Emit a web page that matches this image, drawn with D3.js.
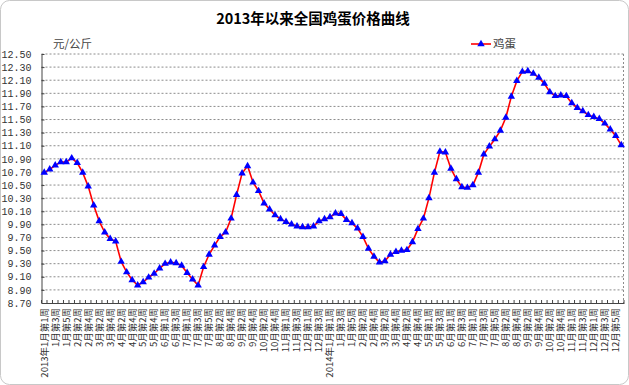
<!DOCTYPE html>
<html>
<head>
<meta charset="utf-8">
<script src="https://cdn.jsdelivr.net/npm/d3@7"></script>
<style>
    body { margin: 0; background: #fff; }
    svg { display: block; }
    .y-axis text { font-family: "Liberation Mono", "DejaVu Sans Mono", monospace; font-size: 10px; fill: #333; }
    .x-axis text { font-family: "Noto Sans CJK SC", sans-serif; font-size: 9.5px; fill: #333; }
</style>
</head>
<body>
<div id="chart-area"></div>
<script>

// weekly average egg price, 元/公斤 (2013 week 1 ... early 2015)
var prices = [
    10.69, 10.74, 10.80, 10.85, 10.85, 10.91, 10.84, 10.69, 10.48, 10.19,
    9.95, 9.78, 9.68, 9.64, 9.33, 9.17, 9.05, 8.97, 9.02, 9.09,
    9.15, 9.23, 9.30, 9.32, 9.31, 9.27, 9.16, 9.06, 8.97, 9.25,
    9.44, 9.58, 9.71, 9.78, 9.99, 10.35, 10.68, 10.79, 10.54, 10.41,
    10.22, 10.13, 10.04, 9.98, 9.94, 9.90, 9.87, 9.86, 9.86, 9.87,
    9.95, 9.98, 10.01, 10.07, 10.06, 9.97, 9.92, 9.84, 9.71, 9.53,
    9.41, 9.32, 9.34, 9.44, 9.48, 9.50, 9.51, 9.63, 9.83, 9.99,
    10.30, 10.69, 11.01, 11.00, 10.75, 10.59, 10.47, 10.46, 10.50, 10.69,
    10.97, 11.09, 11.20, 11.33, 11.53, 11.85, 12.09, 12.23, 12.24, 12.20,
    12.14, 12.05, 11.92, 11.86, 11.87, 11.86, 11.75, 11.68, 11.63, 11.57,
    11.54, 11.51, 11.44, 11.35, 11.25, 11.11
];

// every second week is labelled on the x axis
var weekLabels = [
    "2013年1月第1周", "1月第3周", "1月第5周", "2月第2周", "2月第4周", "3月第2周", "3月第4周",
    "4月第2周", "4月第4周", "5月第2周", "5月第4周", "6月第1周", "6月第3周", "7月第1周",
    "7月第3周", "7月第5周", "8月第2周", "8月第4周", "9月第2周", "9月第4周", "10月第2周",
    "10月第4周", "11月第1周", "11月第3周", "12月第1周", "12月第3周",
    "2014年1月第1周", "1月第3周", "1月第5周", "2月第2周", "2月第4周", "3月第2周", "3月第4周",
    "4月第2周", "4月第4周", "5月第1周", "5月第3周", "6月第1周", "6月第3周", "7月第1周",
    "7月第3周", "7月第5周", "8月第2周", "8月第4周", "9月第2周", "9月第4周", "10月第2周",
    "10月第4周", "11月第1周", "11月第3周", "12月第1周", "12月第3周", "12月第5周"
];

var yTicks = [8.70, 8.90, 9.10, 9.30, 9.50, 9.70, 9.90, 10.10, 10.30, 10.50,
    10.70, 10.90, 11.10, 11.30, 11.50, 11.70, 11.90, 12.10, 12.30, 12.50];

var seriesName = "鸡蛋";
var unitLabel = "元/公斤";
var chartTitle = "2013年以来全国鸡蛋价格曲线";


var totalWidth = 629, totalHeight = 385;
var margin = { top: 54, right: 5, bottom: 82, left: 41.5 };
var width = totalWidth - margin.left - margin.right;
var height = totalHeight - margin.top - margin.bottom;

var svgRoot = d3.select("#chart-area").append("svg")
    .attr("width", totalWidth)
    .attr("height", totalHeight);

// rounded frame round the picture
svgRoot.append("rect")
    .attr("x", 0.5).attr("y", 0.5)
    .attr("width", totalWidth - 1).attr("height", totalHeight - 1)
    .attr("rx", 9)
    .attr("fill", "none")
    .attr("stroke", "#c8c8c8");

svgRoot.append("text")
    .attr("x", 313)
    .attr("y", 24)
    .attr("text-anchor", "middle")
    .style("font-family", "'Noto Sans CJK SC', sans-serif")
    .style("font-size", "14.5px")
    .style("font-weight", "bold")
    .text(chartTitle);

var svg = svgRoot.append("g")
    .attr("transform", "translate(" + margin.left + "," + margin.top + ")");

// Scales
var x = d3.scaleBand()
    .domain(d3.range(prices.length))
    .range([0, width]);

var y = d3.scaleLinear()
    .domain([8.7, 12.5])
    .range([height, 0]);

//======= Grid lines ======//
svg.selectAll(".grid")
    .data(yTicks.slice(1))
    .enter()
    .append("line")
    .attr("class", "grid")
    .attr("x1", 0)
    .attr("x2", width)
    .attr("y1", function(d) { return y(d); })
    .attr("y2", function(d) { return y(d); })
    .attr("stroke", "#8c8c8c")
    .attr("stroke-dasharray", "2,2");

svg.append("line")
    .attr("x1", width - 0.5).attr("x2", width - 0.5)
    .attr("y1", 0).attr("y2", height)
    .attr("stroke", "#8c8c8c")
    .attr("stroke-dasharray", "2,2");

//======= Axes ======//
var yAxis = d3.axisLeft(y)
    .tickValues(yTicks)
    .tickFormat(d3.format(".2f"))
    .tickSizeInner(-3)
    .tickSizeOuter(0)
    .tickPadding(10);

svg.append("g")
    .attr("class", "y-axis")
    .call(yAxis)
    .call(function(g) {
        g.select(".domain").attr("stroke", "#444");
        g.selectAll(".tick line").attr("stroke", "#444");
    });

var xAxis = d3.axisBottom(x)
    .tickValues(d3.range(0, prices.length, 2).filter(function(i) { return i / 2 < weekLabels.length; }))
    .tickFormat(function(i) { return weekLabels[i / 2]; })
    .tickSize(0)
    .tickSizeOuter(0);

svg.append("g")
    .attr("class", "x-axis")
    .attr("transform", "translate(0," + height + ")")
    .call(xAxis)
    .call(function(g) {
        g.select(".domain").attr("stroke", "#444");
        g.selectAll("text")
            .attr("transform", "rotate(-90)")
            .attr("x", -5)
            .attr("y", 0)
            .attr("dy", "0.35em")
            .style("text-anchor", "end");
    });

// small tick marks between the weeks
svg.selectAll(".week-tick")
    .data(d3.range(prices.length + 1))
    .enter()
    .append("line")
    .attr("class", "week-tick")
    .attr("x1", function(i) { return x.range()[0] + i * x.step(); })
    .attr("x2", function(i) { return x.range()[0] + i * x.step(); })
    .attr("y1", height)
    .attr("y2", height - 3)
    .attr("stroke", "#444");

//======= Price line ======//
var valueLine = d3.line()
    .x(function(d, i) { return x(i) + x.bandwidth() / 2; })
    .y(function(d) { return y(d); });

svg.append("path")
    .datum(prices)
    .attr("d", valueLine)
    .attr("fill", "none")
    .attr("stroke", "#ff0000")
    .attr("stroke-width", 1.6);

var triangle = d3.symbol().type(d3.symbolTriangle).size(24);

svg.selectAll(".dot")
    .data(prices)
    .enter()
    .append("path")
    .attr("class", "dot")
    .attr("d", triangle)
    .attr("transform", function(d, i) {
        return "translate(" + (x(i) + x.bandwidth() / 2) + "," + y(d) + ")";
    })
    .attr("fill", "#0000ff");

//======= Unit and legend ======//
svgRoot.append("text")
    .attr("x", 53)
    .attr("y", 48)
    .style("font-family", "'Noto Sans CJK SC', sans-serif")
    .style("font-size", "11.5px")
    .style("fill", "#444")
    .text(unitLabel);

var legend = svgRoot.append("g")
    .attr("transform", "translate(471,44)");

legend.append("line")
    .attr("x1", 0).attr("x2", 20)
    .attr("y1", 0).attr("y2", 0)
    .attr("stroke", "#ff0000")
    .attr("stroke-width", 1.6);

legend.append("path")
    .attr("d", triangle)
    .attr("transform", "translate(10,0)")
    .attr("fill", "#0000ff");

legend.append("text")
    .attr("x", 22)
    .attr("y", 4)
    .style("font-family", "'Noto Sans CJK SC', sans-serif")
    .style("font-size", "11.5px")
    .style("fill", "#444")
    .text(seriesName);

</script>
</body>
</html>
